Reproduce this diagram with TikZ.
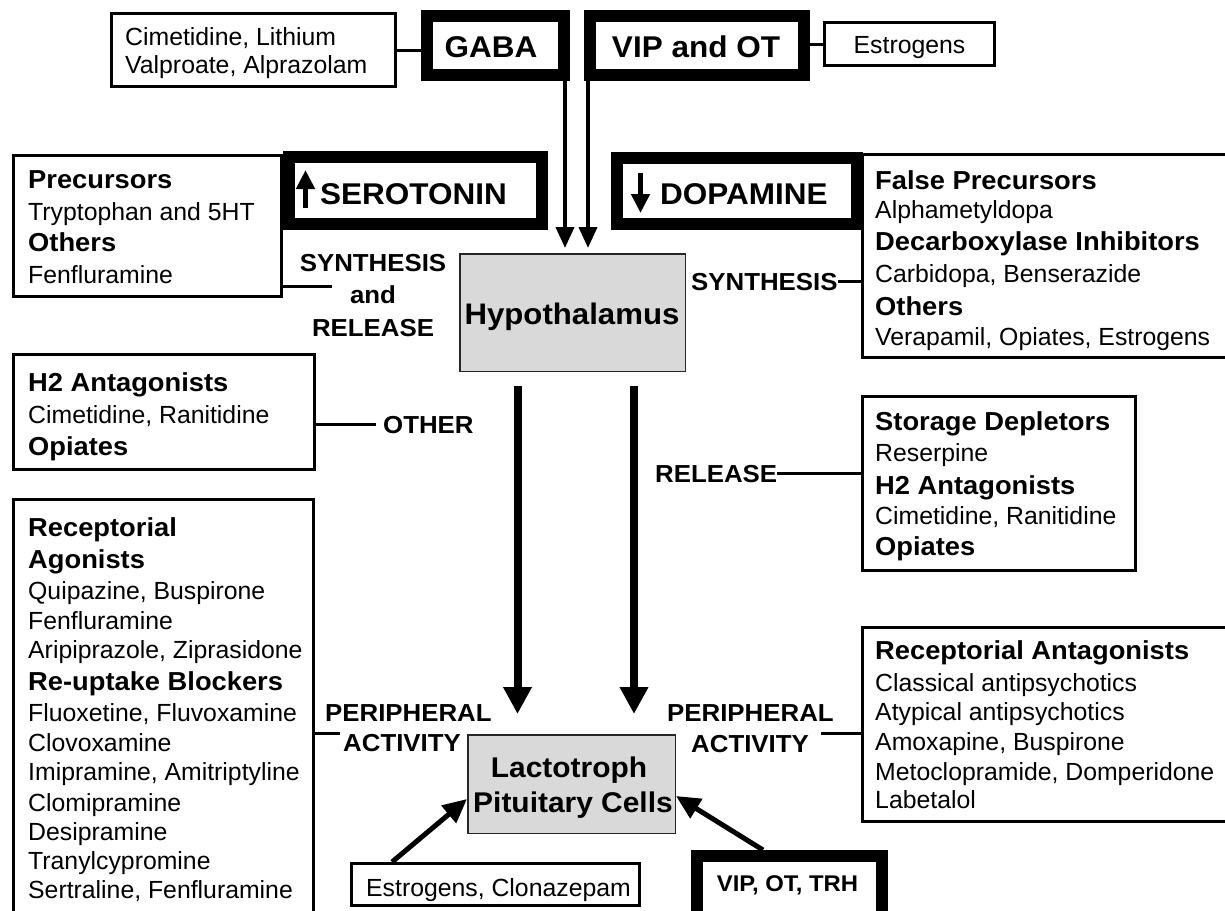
\documentclass[tikz,border=0pt]{standalone}
\usepackage{fontspec}
\setmainfont{Liberation Sans}[BoldFeatures={FakeStretch=1.05}]
\usetikzlibrary{arrows.meta}
\newcommand\fReg{\fontsize{24.8}{29}\selectfont}
\newcommand\fHead{\fontsize{26}{30}\selectfont\bfseries}
\newcommand\fBig{\fontsize{30}{34}\selectfont\bfseries}
\newcommand\fLab{\fontsize{24.6}{28}\selectfont\bfseries}
\newcommand\fMid{\fontsize{29.7}{33}\selectfont\bfseries}
\newcommand\fLac{\fontsize{28.5}{32}\selectfont\bfseries}
\newcommand\fTrh{\fontsize{22.7}{26}\selectfont\bfseries}
\newcommand\boxline[5]{\node[txt, font=#4] (#1) at (#2,#3) {#5};}
\tikzset{
 thinbox/.style={draw, line width=3pt, inner sep=0pt, fill=white},
 thickbox/.style={draw, line width=12pt, inner sep=0pt, fill=white},
 graybox/.style={draw=black!85, line width=1.5pt, fill=black!15, inner sep=0pt},
 txt/.style={anchor=base west, inner sep=0pt},
 ctxt/.style={anchor=base, inner sep=0pt},
 conn/.style={line width=3pt},
 thinarr/.style={line width=4pt, -{Triangle[width=18pt,length=21pt]}},
 bigarr/.style={line width=8pt, -{Triangle[width=27pt,length=27pt]}},
 diagarr/.style={line width=5pt, -{Triangle[width=22pt,length=24pt]}},
 glypharr/.style={line width=5.5pt, -{Triangle[width=18pt,length=19pt]}},
}
\begin{document}
\begin{tikzpicture}[x=1pt,y=-1pt]
\useasboundingbox (0,0) rectangle (1225,910);
\clip (0,0) rectangle (1225,910);
\fill[white] (0,0) rectangle (1225,910);

% ---------- top row
\node[thinbox, minimum width=284pt, minimum height=73pt] (cim) at (253.5,50) {};
\boxline{cimA}{125}{45}{\fReg}{Cimetidine, Lithium}
\boxline{cimB}{125}{73}{\fReg}{Valproate, Alprazolam}
\node[thickbox, minimum width=137pt, minimum height=59pt] (gaba) at (495.5,45.5) {};
\node[ctxt, font=\fBig] (gabat) at (491,57.3) {GABA};
\node[thickbox, minimum width=214pt, minimum height=59pt] (vip) at (697,45.5) {};
\node[ctxt, font=\fBig] (vipt) at (696,57.3) {VIP and OT};
\node[thinbox, minimum width=170pt, minimum height=43pt] (estr) at (909.5,44) {};
\node[ctxt, font=\fReg] (estrt) at (909.5,53.3) {Estrogens};
\draw[conn] (cim.east) -- (cim.east -| gaba.west);
\draw[conn] (estr.west) -- (estr.west -| vip.east);

% ---------- serotonin / dopamine row
\node[thinbox, minimum width=268pt, minimum height=141pt] (prec) at (147.5,226) {};
\boxline{precA}{28}{188.3}{\fHead}{Precursors}
\boxline{precB}{28}{220}{\fReg}{Tryptophan and 5HT}
\boxline{precC}{28}{251.7}{\fHead}{Others}
\boxline{precD}{28}{283.3}{\fReg}{Fenfluramine}
\node[thickbox, minimum width=253pt, minimum height=67pt] (sero) at (415.5,190.5) {};
\node[txt, font=\fBig] (serot) at (320,204) {SEROTONIN};
\draw[glypharr] (305.5,208) -- (305.5,170);
\node[thickbox, minimum width=240pt, minimum height=66pt] (dopa) at (737,191) {};
\node[txt, font=\fBig] (dopat) at (660,204) {DOPAMINE};
\draw[glypharr] (640.5,173) -- (640.5,213);
\node[thinbox, minimum width=376pt, minimum height=203pt] (fp) at (1050.5,256) {};
\boxline{fpA}{875}{189}{\fHead}{False Precursors}
\boxline{fpB}{875}{218.3}{\fReg}{Alphametyldopa}
\boxline{fpC}{875}{250.7}{\fHead}{Decarboxylase Inhibitors}
\boxline{fpD}{875}{282.7}{\fReg}{Carbidopa, Benserazide}
\boxline{fpE}{875}{315}{\fHead}{Others}
\boxline{fpF}{875}{345}{\fReg}{Verapamil, Opiates, Estrogens}

% ---------- hypothalamus
\node[graybox, minimum width=225.5pt, minimum height=117.5pt] (hyp) at (572.5,312.5) {};
\node[ctxt, font=\fMid] (hypt) at (572,324) {Hypothalamus};
\coordinate (ga) at ([xshift=-5pt]gaba.south east);
\coordinate (va) at ([xshift=4pt]vip.south west);
\draw[thinarr, shorten >=5pt] (ga) -- (ga |- hyp.north);
\draw[thinarr, shorten >=5pt] (va) -- (va |- hyp.north);

\node[ctxt, font=\fLab] (synLa) at (373,271.7) {SYNTHESIS};
\node[ctxt, font=\fLab] (synLb) at (373,303.3) {and};
\node[ctxt, font=\fLab] (synLc) at (373,336.7) {RELEASE};
\coordinate (synL) at (332,286);
\draw[conn] (synL) -- (synL -| prec.east);
\boxline{synR}{691}{290}{\fLab}{SYNTHESIS}
\draw[conn] (synR.east) -- (synR.east -| fp.west);

% ---------- H2 / other
\node[thinbox, minimum width=301pt, minimum height=115pt] (h2) at (164,412) {};
\boxline{hA}{28}{391.7}{\fHead}{H2 Antagonists}
\boxline{hB}{28}{423.3}{\fReg}{Cimetidine, Ranitidine}
\boxline{hC}{28}{455}{\fHead}{Opiates}
\boxline{other}{383}{433.3}{\fLab}{OTHER}
\coordinate (oth) at ([xshift=-7pt]other.west);
\draw[conn] (oth) -- (oth -| h2.east);

% ---------- storage / release
\node[thinbox, minimum width=273pt, minimum height=174pt] (stor) at (999,483.5) {};
\boxline{stA}{875}{430}{\fHead}{Storage Depletors}
\boxline{stB}{875}{461.7}{\fReg}{Reserpine}
\boxline{stC}{875}{494.3}{\fHead}{H2 Antagonists}
\boxline{stD}{875}{524.3}{\fReg}{Cimetidine, Ranitidine}
\boxline{stE}{875}{555.7}{\fHead}{Opiates}
\boxline{relR}{655}{482.3}{\fLab}{RELEASE}
\draw[conn] (relR.east) -- (relR.east -| stor.west);

% ---------- left big box
\node[thinbox, minimum width=300pt, minimum height=429pt] (recag) at (163.5,714) {};
\boxline{raA}{28}{536}{\fHead}{Receptorial}
\boxline{raB}{28}{568.3}{\fHead}{Agonists}
\boxline{raC}{28}{599}{\fReg}{Quipazine, Buspirone}
\boxline{raD}{28}{629}{\fReg}{Fenfluramine}
\boxline{raE}{28}{658.3}{\fReg}{Aripiprazole, Ziprasidone}
\boxline{raF}{28}{690}{\fHead}{Re-uptake Blockers}
\boxline{raG}{28}{721.7}{\fReg}{Fluoxetine, Fluvoxamine}
\boxline{raH}{28}{751}{\fReg}{Clovoxamine}
\boxline{raI}{28}{780}{\fReg}{Imipramine, Amitriptyline}
\boxline{raJ}{28}{811}{\fReg}{Clomipramine}
\boxline{raK}{28}{840}{\fReg}{Desipramine}
\boxline{raL}{28}{869}{\fReg}{Tranylcypromine}
\boxline{raM}{28}{898.3}{\fReg}{Sertraline, Fenfluramine}

% ---------- right antagonists box
\node[thinbox, minimum width=376pt, minimum height=194pt] (recant) at (1050.5,724.5) {};
\boxline{rnA}{875}{659}{\fHead}{Receptorial Antagonists}
\boxline{rnB}{875}{691.7}{\fReg}{Classical antipsychotics}
\boxline{rnC}{875}{720.7}{\fReg}{Atypical antipsychotics}
\boxline{rnD}{875}{750}{\fReg}{Amoxapine, Buspirone}
\boxline{rnE}{875}{780}{\fReg}{Metoclopramide, Domperidone}
\boxline{rnF}{875}{808.3}{\fReg}{Labetalol}

% ---------- lactotroph
\node[graybox, minimum width=207.5pt, minimum height=98.5pt] (lac) at (571.5,784) {};
\node[ctxt, font=\fLac] (lacA) at (569,777.7) {Lactotroph};
\node[ctxt, font=\fLac] (lacB) at (573,812.3) {Pituitary Cells};

\coordinate (bl) at ([xshift=-55pt,yshift=-14pt]hyp.south);
\coordinate (br) at ([xshift=61.5pt,yshift=-14pt]hyp.south);
\draw[bigarr, shorten >=20pt] (bl) -- (bl |- lac.north);
\draw[bigarr, shorten >=20pt] (br) -- (br |- lac.north);

\boxline{perL}{325}{721}{\fLab}{PERIPHERAL}
\boxline{actL}{343}{751.7}{\fLab}{ACTIVITY}
\coordinate (pL) at (340,733);
\draw[conn] (pL) -- (pL -| recag.east);
\boxline{perR}{667}{721}{\fLab}{PERIPHERAL}
\boxline{actR}{691}{752}{\fLab}{ACTIVITY}
\coordinate (pR) at (821,733);
\draw[conn] (pR) -- (pR -| recant.west);

% ---------- bottom
\node[thinbox, minimum width=288pt, minimum height=42pt] (estclo) at (495.5,884.5) {};
\node[ctxt, font=\fReg] (estclot) at (498.5,896) {Estrogens, Clonazepam};
\node[thickbox, minimum width=185pt, minimum height=68pt] (viptrh) at (789.5,890) {};
\node[ctxt, font=\fTrh] (viptrht) at (787.5,891) {VIP, OT, TRH};
\draw[diagarr] ([xshift=42pt]estclo.north west) -- ([yshift=-15pt]lac.west);
\draw[diagarr] ([xshift=-26.5pt]viptrh.north) -- ([yshift=-12pt]lac.east);
\end{tikzpicture}
\end{document}
